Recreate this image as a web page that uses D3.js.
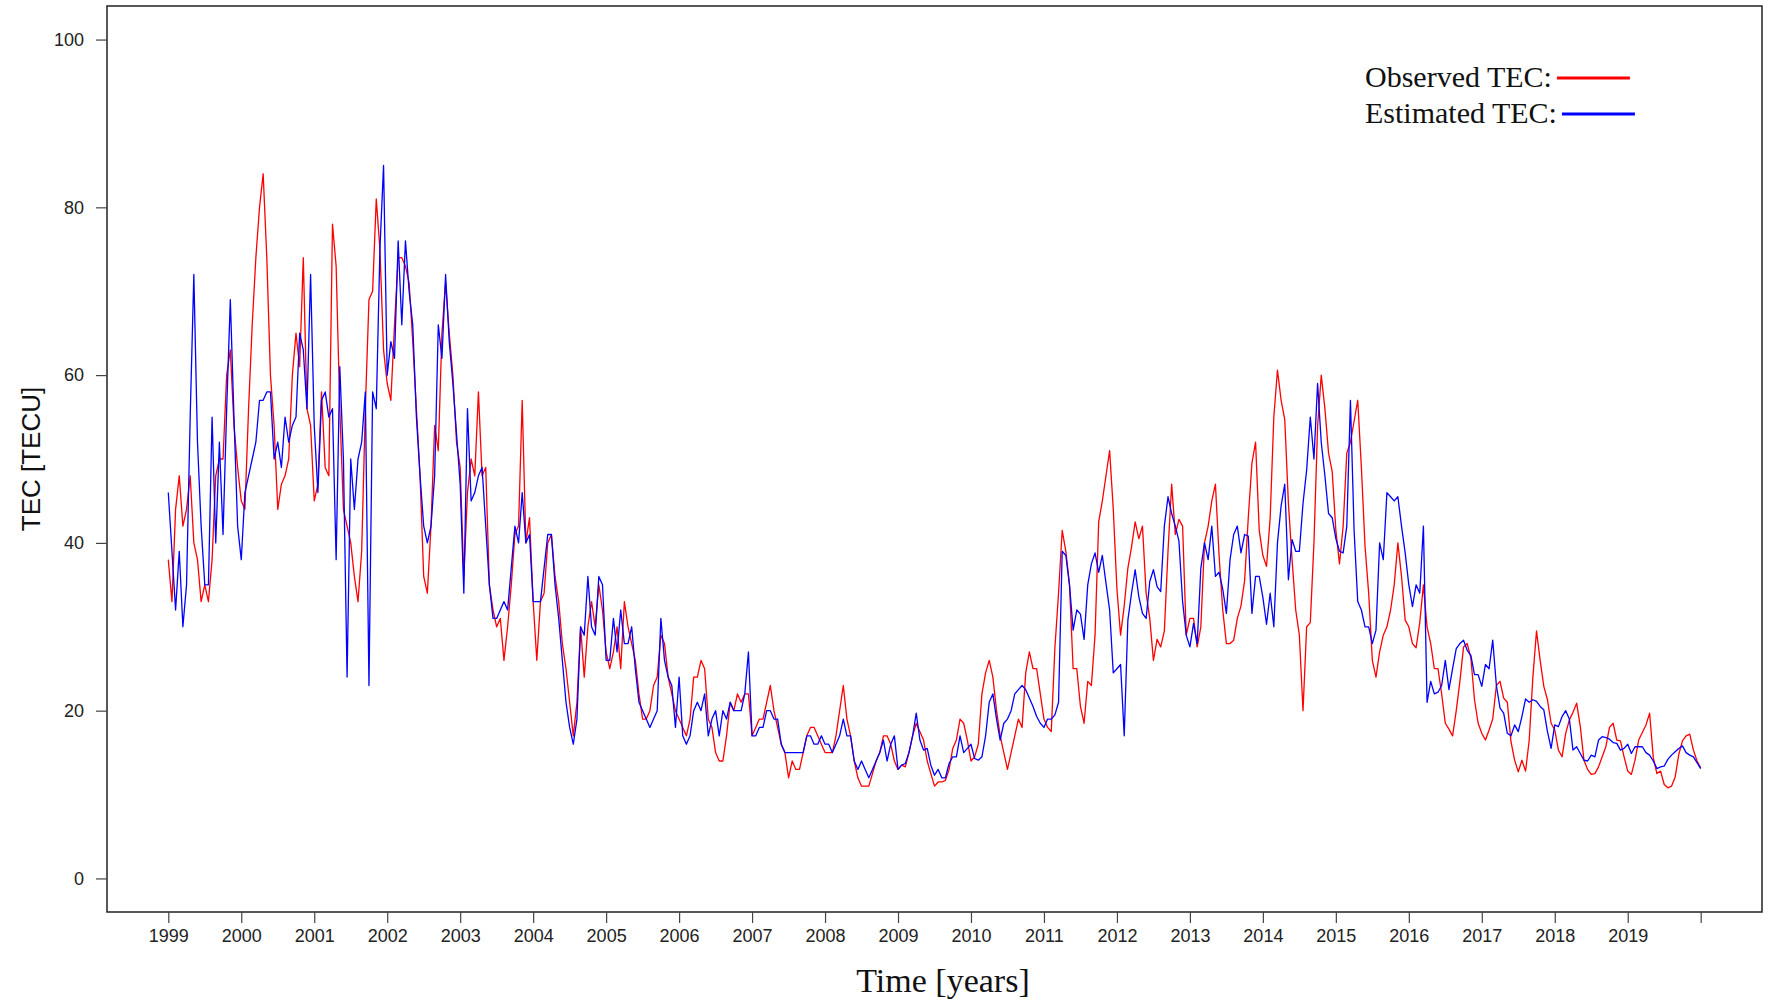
<!DOCTYPE html>
<html>
<head>
<meta charset="utf-8">
<script src="https://d3js.org/d3.v7.min.js"></script>
<style>
  body { margin: 0; background: #fff; }
  svg { display: block; }
</style>
</head>
<body>
<svg id="chart" width="1773" height="1000"></svg>
<script>
// sampling of the series: every 0.05 year from 1999.00 to 2020.00
const START_YEAR = 1999;
const STEP = 0.05;

const tickYears = [1999, 2000, 2001, 2002, 2003, 2004, 2005, 2006, 2007, 2008, 2009,
  2010, 2011, 2012, 2013, 2014, 2015, 2016, 2017, 2018, 2019, 2020];
const tickLabels = ['1999', '2000', '2001', '2002', '2003', '2004', '2005', '2006', '2007', '2008', '2009',
  '2010', '2011', '2012', '2013', '2014', '2015', '2016', '2017', '2018', '2019', ''];
const yTicks = [0, 20, 40, 60, 80, 100];

// Observed TEC (red)
const observed = [
  38, 33, 44, 48, 42, 44, 48, 40, 38, 33, 35, 33, 38, 48, 50, 50, 60, 63, 54, 49, // 1999
  45, 44, 56, 66, 74, 80, 84, 74, 60, 54, 44, 47, 48, 50, 60, 65, 61, 74, 56, 54, // 2000
  45, 47, 58, 49, 48, 78, 73, 56, 44, 42, 40, 36, 33, 39, 56, 69, 70, 81, 75, 63, // 2001
  59, 57, 66, 74, 74, 73, 71, 64, 56, 48, 36, 34, 42, 54, 51, 65, 71, 65, 60, 52, // 2002
  49, 36, 46, 50, 48, 58, 48, 49, 35, 32, 30, 31, 26, 30, 35, 41, 42, 57, 40, 43, // 2003
  33, 26, 33, 34, 40, 41, 36, 33, 28, 25, 21, 17, 21, 30, 24, 30, 33, 30, 35, 32, // 2004
  27, 25, 27, 30, 25, 33, 30, 28, 26, 22, 19, 19, 20, 23, 24, 29, 28, 24, 22, 20, // 2005
  19, 18, 17, 19, 24, 24, 26, 25, 19, 18, 15, 14, 14, 17, 21, 20, 22, 21, 22, 22, // 2006
  17, 18, 19, 19, 21, 23, 20, 18, 16, 15, 12, 14, 13, 13, 15, 17, 18, 18, 17, 16, // 2007
  15, 15, 15, 17, 20, 23, 19, 17, 14, 12, 11, 11, 11, 12.5, 14, 15, 17, 17, 16, 14, // 2008
  13, 13.5, 13.3, 15, 17, 18.5, 17.5, 16.5, 14, 12.5, 11, 11.5, 11.5, 11.7, 13, 15.5, 16.5, 19, 18.5, 16.5, // 2009
  14, 14.5, 16, 22, 24.5, 26, 24, 20, 17, 15, 13, 15, 17, 19, 18, 24.5, 27, 25, 25, 22, // 2010
  19, 18, 17.5, 27.5, 34, 41.5, 39, 35, 25, 25, 20.5, 18.5, 23.5, 23, 29, 42.5, 45, 48, 51, 44, // 2011
  34.5, 29, 32.5, 37, 39.5, 42.5, 40.5, 42, 34, 31, 26, 28.5, 27.6, 29.5, 39, 47, 41, 42.8, 42, 29, // 2012
  31, 31, 27.6, 30, 40, 42, 45, 47, 38.5, 32, 28, 28, 28.4, 31, 32.5, 35.5, 43, 49.5, 52, 41.5, // 2013
  38.5, 37.2, 43, 55, 60.6, 57, 54.7, 44.7, 38, 32, 29, 20, 30, 30.5, 40, 53.9, 60, 56, 50.7, 48.5, // 2014
  41.5, 37.5, 42, 50.7, 52, 54.5, 57, 49, 39.6, 34, 26, 24, 27, 29, 30, 32, 35, 40, 36, 30.8, // 2015
  30, 28, 27.5, 30.5, 35, 30, 28, 25, 25, 22, 18.5, 17.8, 17, 20, 23.5, 27.6, 28, 26.3, 21.3, 18.5, // 2016
  17.3, 16.5, 17.7, 19, 23, 23.5, 21.5, 21, 16.3, 14.1, 12.7, 14.1, 12.8, 16.5, 24, 29.5, 26, 22.9, 21.3, 18.5, // 2017
  17.7, 15.3, 14.5, 17.3, 18.9, 19.8, 20.9, 18.1, 14.1, 13, 12.4, 12.5, 13.3, 14.5, 15.7, 18, 18.5, 16.5, 16.4, 14.5, // 2018
  12.8, 12.4, 14.1, 16.5, 17.4, 18.3, 19.7, 14.4, 12.5, 12.8, 11.2, 10.8, 11, 12.1, 14.8, 16.4, 17, 17.2, 15.3, 14, // 2019
  13.2 // 2020
];

// Estimated TEC (blue)
const estimated = [
  46, 39, 32, 39, 30, 35, 55, 72, 52, 42, 35, 35, 55, 40, 52, 41, 56, 69, 55, 42, // 1999
  38, 46, 48, 50, 52, 57, 57, 58, 58, 50, 52, 49, 55, 52, 54, 55, 65, 63, 56, 72, // 2000
  54, 46, 57, 58, 55, 56, 38, 61, 50, 24, 50, 44, 50, 52, 58, 23, 58, 56, 75, 85, // 2001
  60, 64, 62, 76, 66, 76, 70, 66, 55, 48, 42, 40, 42, 48, 66, 62, 72, 64, 59, 53, // 2002
  47, 34, 56, 45, 46, 48, 49, 42, 35, 31, 31, 32, 33, 32, 37, 42, 40, 46, 40, 41, // 2003
  33, 33, 33, 37, 41, 41, 35, 31, 26, 21, 18, 16, 19, 30, 29, 36, 30, 29, 36, 35, // 2004
  26, 26, 31, 27, 32, 28, 28, 30, 25, 21, 20, 19, 18, 19, 20, 31, 26, 24, 23, 18, // 2005
  24, 17, 16, 17, 20, 21, 20, 22, 17, 19, 20, 17, 20, 19, 21, 20, 20, 20, 22, 27, // 2006
  17, 17, 18, 18, 20, 20, 19, 19, 16, 15, 15, 15, 15, 15, 15, 17, 17, 16, 16, 17, // 2007
  16, 16, 15, 16, 17, 19, 17, 17, 14, 13, 14, 13, 12, 13, 14, 15, 16.5, 14, 16, 17, // 2008
  13, 13.5, 13.7, 15, 17, 19.7, 16.5, 15.3, 15.5, 13.5, 12.3, 13, 12, 12, 13.7, 14.5, 14.5, 17, 15, 15.5, // 2009
  16, 14.3, 14.1, 14.5, 17, 21, 22, 19, 16.5, 18.5, 19, 20, 22, 22.5, 23, 22.5, 21.5, 20.5, 19.3, 18.5, // 2010
  18, 19, 19, 19.5, 21, 39, 38.5, 35, 29.6, 32, 31.5, 28.5, 35, 37.5, 38.8, 36.5, 38.5, 35.2, 32, 24.5, // 2011
  25, 25.5, 17, 30.8, 34, 36.8, 33.6, 31.6, 31, 35.4, 36.8, 34.8, 34.2, 42, 45.5, 43.5, 42, 40.2, 33, 29, // 2012
  27.6, 30.4, 28, 37, 40, 38, 42, 36, 36.5, 34.5, 31.6, 38, 41, 42, 38.8, 41, 40.8, 31.6, 36, 36, // 2013
  33.5, 30.3, 34, 30, 40, 44.4, 47, 35.6, 40.4, 39, 39, 44.7, 48.7, 55, 50, 59, 52, 48, 43.5, 43, // 2014
  40.5, 39, 38.8, 42, 57, 41.5, 33, 32, 30, 30, 28, 29.6, 40, 38, 46, 45.5, 45, 45.5, 42, 38.8, // 2015
  35, 32.4, 35, 34, 42, 21, 23.5, 22, 22.2, 23, 26, 22.5, 25, 27.4, 28, 28.4, 27.2, 26.6, 24.3, 24.3, // 2016
  22.9, 25.5, 25, 28.4, 23, 20.3, 19.7, 17.3, 17, 18.3, 17.5, 19.3, 21.4, 21, 21.3, 21.1, 20.5, 20.1, 17.5, 15.5, // 2017
  18.3, 18.1, 19.3, 20, 19, 15.3, 15.7, 14.9, 14.1, 14, 14.7, 14.5, 16.5, 16.9, 16.8, 16.6, 16.2, 16.1, 15.3, 15.5, // 2018
  16, 14.9, 15.7, 15.7, 15.7, 15, 14.7, 14, 13.1, 13.3, 13.4, 14.2, 14.7, 15.1, 15.5, 15.8, 15, 14.7, 14.5, 13.8, // 2019
  13.1 // 2020
];

const svg = d3.select('#chart');
const box = { left: 107, top: 6, right: 1762, bottom: 912 };

// R-style 4% padding around 1999..2020 and 0..100
const x = d3.scaleLinear().domain([1998.16, 2020.84]).range([box.left, box.right]);
const y = d3.scaleLinear().domain([-4, 104]).range([box.bottom, box.top]);

const yearOf = i => START_YEAR + i * STEP;

svg.append('rect').attr('width', 1773).attr('height', 1000).attr('fill', '#fff');

// series
const line = d3.line()
  .x((d, i) => x(yearOf(i)))
  .y(d => y(d));

svg.append('path').datum(observed)
  .attr('d', line)
  .attr('fill', 'none')
  .attr('stroke', '#ff0000')
  .attr('stroke-width', 1.3)
  .attr('stroke-linejoin', 'round');

svg.append('path').datum(estimated)
  .attr('d', line)
  .attr('fill', 'none')
  .attr('stroke', '#0000ff')
  .attr('stroke-width', 1.3)
  .attr('stroke-linejoin', 'round');

// box
svg.append('rect')
  .attr('x', box.left).attr('y', box.top)
  .attr('width', box.right - box.left).attr('height', box.bottom - box.top)
  .attr('fill', 'none').attr('stroke', '#222').attr('stroke-width', 1.5);

// axes
const xAxis = d3.axisBottom(x)
  .tickValues(tickYears)
  .tickFormat((d, i) => tickLabels[i])
  .tickSize(11).tickPadding(6);
const gx = svg.append('g').attr('transform', `translate(0,${box.bottom})`).call(xAxis);

const yAxis = d3.axisLeft(y)
  .tickValues(yTicks)
  .tickSize(11).tickPadding(12);
const gy = svg.append('g').attr('transform', `translate(${box.left},0)`).call(yAxis);

[gx, gy].forEach(g => {
  g.select('.domain').remove();
  g.selectAll('.tick line').attr('stroke', '#444').attr('stroke-width', 1.2);
  g.selectAll('.tick text')
    .attr('fill', '#222')
    .style('font-family', '"Liberation Sans", Arial, sans-serif')
    .style('font-size', '18px');
});

// axis titles
svg.append('text')
  .attr('transform', 'translate(31,459) rotate(-90)')
  .attr('text-anchor', 'middle')
  .attr('dominant-baseline', 'central')
  .style('font-family', '"Liberation Sans", Arial, sans-serif')
  .style('font-size', '26px')
  .attr('fill', '#111')
  .text('TEC [TECU]');

svg.append('text')
  .attr('x', 943).attr('y', 992)
  .attr('text-anchor', 'middle')
  .style('font-family', '"Liberation Serif", "Times New Roman", serif')
  .style('font-size', '34px')
  .attr('fill', '#111')
  .text('Time [years]');

// legend
const legend = [
  { label: 'Observed TEC:', color: '#ff0000', y: 87 },
  { label: 'Estimated TEC:', color: '#0000ff', y: 123 }
];
legend.forEach(item => {
  const t = svg.append('text')
    .attr('x', 1365).attr('y', item.y)
    .style('font-family', '"Liberation Serif", "Times New Roman", serif')
    .style('font-size', '30px')
    .attr('fill', '#111')
    .text(item.label);
  const end = 1365 + t.node().getComputedTextLength() + 5;
  svg.append('line')
    .attr('x1', end).attr('x2', end + 73)
    .attr('y1', item.y - 9).attr('y2', item.y - 9)
    .attr('stroke', item.color).attr('stroke-width', 3);
});
</script>
</body>
</html>
